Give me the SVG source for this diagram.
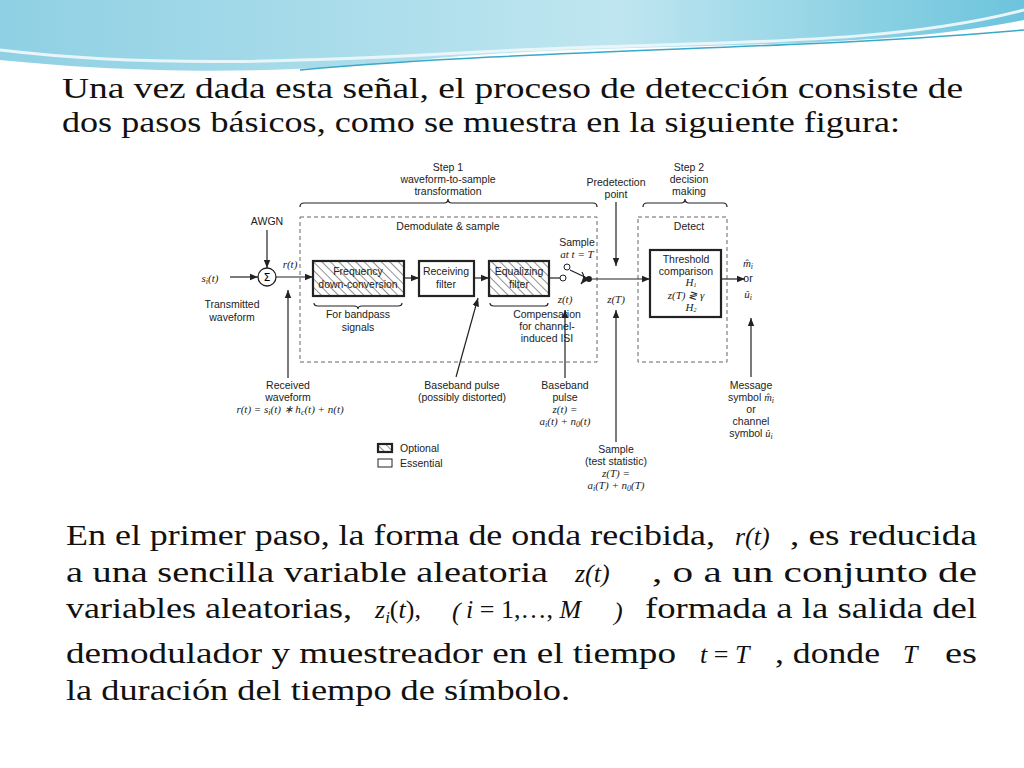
<svg xmlns="http://www.w3.org/2000/svg" width="1024" height="768" viewBox="0 0 1024 768">
<defs>
<linearGradient id="sky" x1="0" y1="0" x2="1" y2="0"><stop offset="0" stop-color="#8fd0e4"/><stop offset="0.6" stop-color="#bfe6f0"/><stop offset="1" stop-color="#6cc4dc"/></linearGradient>
<pattern id="hatch" width="6" height="6" patternUnits="userSpaceOnUse" patternTransform="rotate(-45)"><rect width="6" height="6" fill="#fff"/><line x1="0" y1="0" x2="0" y2="6" stroke="#555" stroke-width="1.3"/></pattern>
<marker id="ar" viewBox="0 0 10 10" refX="10" refY="5" markerWidth="7" markerHeight="7" orient="auto-start-reverse"><path d="M0,1 L10,5 L0,9 z" fill="#222"/></marker>
<style>
.b{font-family:"Liberation Serif",serif;font-size:30px;fill:#111}
.m{font-family:"Liberation Serif",serif;font-style:italic;font-size:26px;fill:#111}
.d{font-family:"Liberation Sans",Arial,sans-serif;font-size:10.5px;fill:#222;text-anchor:middle}
.l{font-family:"Liberation Sans",Arial,sans-serif;font-size:10.5px;fill:#222}
.di{font-family:"Liberation Serif",serif;font-style:italic;font-size:11px;fill:#222;text-anchor:middle}
.box{fill:#fff;stroke:#222;stroke-width:2.2}
.hb{fill:url(#hatch);stroke:#222;stroke-width:2.2}
.dash{fill:none;stroke:#666;stroke-width:1;stroke-dasharray:4 3}
.ln{stroke:#222;stroke-width:1.2;fill:none}
</style>
</defs>
<rect width="1024" height="768" fill="#fff"/>
<path d="M0,0 H1024 V20 C850,55 600,40 420,60 C250,78 100,70 0,60 Z" fill="url(#sky)"/>
<path d="M0,50 C150,68 300,62 480,52 C700,40 880,48 1024,10" fill="none" stroke="#e8f6fa" stroke-width="3"/>
<path d="M300,70 C550,48 800,50 1024,30" fill="none" stroke="#3aa8c8" stroke-width="1.5"/>
<g id="title">
<text class="b" x="62" y="98" textLength="901" lengthAdjust="spacingAndGlyphs">Una vez dada esta señal, el proceso de detección consiste de</text>
<text class="b" x="62" y="132" textLength="838" lengthAdjust="spacingAndGlyphs">dos pasos básicos, como se muestra en la siguiente figura:</text>
</g>
<g id="labels">
<text class="d" x="448" y="171">Step 1</text>
<text class="d" x="448" y="183">waveform-to-sample</text>
<text class="d" x="448" y="195">transformation</text>
<path class="ln" d="M300,207 Q300,203 304,203 H444 Q448,203 448,199 Q448,203 452,203 H593 Q597,203 597,207" stroke-width="0.8"/>
<text class="d" x="689" y="171">Step 2</text>
<text class="d" x="689" y="183">decision</text>
<text class="d" x="689" y="195">making</text>
<path class="ln" d="M643,207 Q643,203 647,203 H681 Q685,203 685,199 Q685,203 689,203 H723 Q727,203 727,207" stroke-width="0.8"/>
<text class="d" x="616" y="186">Predetection</text>
<text class="d" x="616" y="198">point</text>
<text class="d" x="267" y="225">AWGN</text>
<text class="di" x="210" y="282">s<tspan font-size="8" dy="2">i</tspan><tspan dy="-2">(t)</tspan></text>
<text class="di" x="290" y="268">r(t)</text>
<text class="d" x="232" y="308">Transmitted</text>
<text class="d" x="232" y="321">waveform</text>
<text class="d" x="358" y="318">For bandpass</text>
<text class="d" x="358" y="331">signals</text>
<path class="ln" d="M314,303 Q314,306 318,306 H354 Q358,306 358,309 Q358,306 362,306 H398 Q402,306 402,303" stroke-width="0.8"/>
<path class="ln" d="M490,303 Q490,306 494,306 H545 Q548,306 548,303" stroke-width="0.8"/>
<text class="d" x="547" y="318">Compensation</text>
<text class="d" x="547" y="330">for channel-</text>
<text class="d" x="547" y="342">induced ISI</text>
<text class="d" x="448" y="230">Demodulate &amp; sample</text>
<text class="d" x="577" y="246">Sample</text>
<text class="di" x="577" y="258">at t = T</text>
<text class="di" x="565" y="303">z(t)</text>
<text class="di" x="616" y="303">z(T)</text>
<text class="d" x="689" y="230">Detect</text>
<text class="di" x="748" y="267">m̂<tspan font-size="8" dy="2">i</tspan></text>
<text class="d" x="748" y="282">or</text>
<text class="di" x="748" y="298">û<tspan font-size="8" dy="2">i</tspan></text>
<text class="d" x="288" y="389">Received</text>
<text class="d" x="288" y="401">waveform</text>
<text class="di" x="290" y="413">r(t) = s<tspan font-size="8" dy="2">i</tspan><tspan dy="-2">(t) ∗ h</tspan><tspan font-size="8" dy="2">c</tspan><tspan dy="-2">(t)  + n(t)</tspan></text>
<text class="d" x="462" y="389">Baseband pulse</text>
<text class="d" x="462" y="401">(possibly distorted)</text>
<text class="d" x="565" y="389">Baseband</text>
<text class="d" x="565" y="401">pulse</text>
<text class="di" x="565" y="413">z(t) =</text>
<text class="di" x="565" y="425">a<tspan font-size="8" dy="2">i</tspan><tspan dy="-2">(t) + n</tspan><tspan font-size="8" dy="2">0</tspan><tspan dy="-2">(t)</tspan></text>
<text class="d" x="616" y="453">Sample</text>
<text class="d" x="616" y="465">(test statistic)</text>
<text class="di" x="616" y="477">z(T) =</text>
<text class="di" x="616" y="489">a<tspan font-size="8" dy="2">i</tspan><tspan dy="-2">(T) + n</tspan><tspan font-size="8" dy="2">0</tspan><tspan dy="-2">(T)</tspan></text>
<text class="d" x="751" y="389">Message</text>
<text class="d" x="751" y="401">symbol <tspan font-family="Liberation Serif" font-style="italic">m̂<tspan font-size="8" dy="2">i</tspan></tspan></text>
<text class="d" x="751" y="413">or</text>
<text class="d" x="751" y="425">channel</text>
<text class="d" x="751" y="437">symbol <tspan font-family="Liberation Serif" font-style="italic">û<tspan font-size="8" dy="2">i</tspan></tspan></text>
</g>
<g id="dashboxes">
<rect class="dash" x="300" y="217" width="297" height="145"/>
<rect class="dash" x="638" y="217" width="89" height="145"/>
</g>
<g id="sum"><circle cx="267" cy="277" r="9" fill="#fff" stroke="#222" stroke-width="1.3"/><text x="267" y="281" font-family="DejaVu Sans" font-size="11" text-anchor="middle">Σ</text></g>
<g id="freq"><rect class="hb" x="313" y="261" width="91" height="35"/><text class="d" x="358" y="275" font-size="10">Frequency</text><text class="d" x="358" y="288" font-size="10">down-conversion</text></g>
<g id="recv"><rect class="box" x="419" y="261" width="55" height="35"/><text class="d" x="446" y="275">Receiving</text><text class="d" x="446" y="288">filter</text></g>
<g id="equal"><rect class="hb" x="489" y="261" width="60" height="35"/><text class="d" x="519" y="275">Equalizing</text><text class="d" x="519" y="288">filter</text></g>
<g id="thresh"><rect class="box" x="650" y="250" width="71" height="67"/>
<text class="d" x="686" y="263">Threshold</text><text class="d" x="686" y="275">comparison</text>
<text class="di" x="691" y="286" font-size="8">H<tspan font-size="6" dy="1">1</tspan></text>
<text class="di" x="686" y="299">z(T) ≷ γ</text>
<text class="di" x="691" y="311" font-size="8">H<tspan font-size="6" dy="1">2</tspan></text></g>
<g id="switch"><circle cx="563" cy="278" r="3" fill="#fff" stroke="#222"/><circle cx="567" cy="267" r="3" fill="#fff" stroke="#222"/><circle cx="589" cy="279" r="3" fill="#222"/><line x1="570" y1="270" x2="589" y2="279" stroke="#222" stroke-width="1.3"/><path d="M582,272 Q586,278 581,284" class="ln" marker-end="url(#ar)" stroke-width="0.8"/></g>
<g id="legend"><rect class="hb" x="378" y="444" width="14" height="8" stroke-width="1"/><text class="l" x="400" y="452">Optional</text><rect x="378" y="459" width="14" height="8" fill="#fff" stroke="#222"/><text class="l" x="400" y="467">Essential</text></g>
<g id="connectors">
<line class="ln" x1="267" y1="230" x2="267" y2="268" marker-end="url(#ar)"/>
<line class="ln" x1="230" y1="277" x2="258" y2="277" marker-end="url(#ar)"/>
<line class="ln" x1="276" y1="277" x2="313" y2="277" marker-end="url(#ar)"/>
<line class="ln" x1="404" y1="278" x2="419" y2="278" marker-end="url(#ar)"/>
<line class="ln" x1="474" y1="278" x2="489" y2="278" marker-end="url(#ar)"/>
<line class="ln" x1="549" y1="278" x2="560" y2="278"/>
<line class="ln" x1="592" y1="279" x2="650" y2="279" marker-end="url(#ar)"/>
<line class="ln" x1="721" y1="279" x2="745" y2="279" marker-end="url(#ar)"/>
<line class="ln" x1="616" y1="202" x2="616" y2="266" marker-end="url(#ar)"/>
<line class="ln" x1="616" y1="442" x2="616" y2="310" marker-end="url(#ar)"/>
<line class="ln" x1="565" y1="378" x2="565" y2="310" marker-end="url(#ar)"/>
<line class="ln" x1="751" y1="377" x2="751" y2="318" marker-end="url(#ar)"/>
<line class="ln" x1="288" y1="378" x2="288" y2="290" marker-end="url(#ar)"/>
<line class="ln" x1="456" y1="377" x2="478" y2="298" marker-end="url(#ar)"/>
</g>
<g id="body">
<text class="b" x="66" y="545" textLength="649" lengthAdjust="spacingAndGlyphs">En el primer paso, la forma de onda recibida,</text>
<text class="m" x="735" y="545">r(t)</text>
<text class="b" x="790" y="545" textLength="187" lengthAdjust="spacingAndGlyphs">, es reducida</text>
<text class="b" x="66" y="582" textLength="482" lengthAdjust="spacingAndGlyphs">a una sencilla variable aleatoria</text>
<text class="m" x="575" y="582">z(t)</text>
<text class="b" x="652" y="582" textLength="325" lengthAdjust="spacingAndGlyphs">, o a un conjunto de</text>
<text class="b" x="66" y="618" textLength="286" lengthAdjust="spacingAndGlyphs">variables aleatorias,</text>
<text class="m" x="375" y="618">z<tspan font-size="17" dy="5">i</tspan><tspan dy="-5" font-style="normal">(</tspan>t<tspan font-style="normal">),</tspan></text>
<text class="m" x="452" y="620" font-style="normal" font-size="36">(</text>
<text class="m" x="466" y="618">i <tspan font-style="normal">= 1,…,</tspan> M</text>
<text class="m" x="614" y="620" font-style="normal" font-size="36">)</text>
<text class="b" x="645" y="618" textLength="332" lengthAdjust="spacingAndGlyphs">formada a la salida del</text>
<text class="b" x="66" y="663" textLength="610" lengthAdjust="spacingAndGlyphs">demodulador y muestreador en el tiempo</text>
<text class="m" x="700" y="663">t <tspan font-style="normal">=</tspan> T</text>
<text class="b" x="775" y="663" textLength="105" lengthAdjust="spacingAndGlyphs">, donde</text>
<text class="m" x="903" y="663">T</text>
<text class="b" x="945" y="663" textLength="32" lengthAdjust="spacingAndGlyphs">es</text>
<text class="b" x="66" y="700" textLength="504" lengthAdjust="spacingAndGlyphs">la duración del tiempo de símbolo.</text>
</g>
</svg>
